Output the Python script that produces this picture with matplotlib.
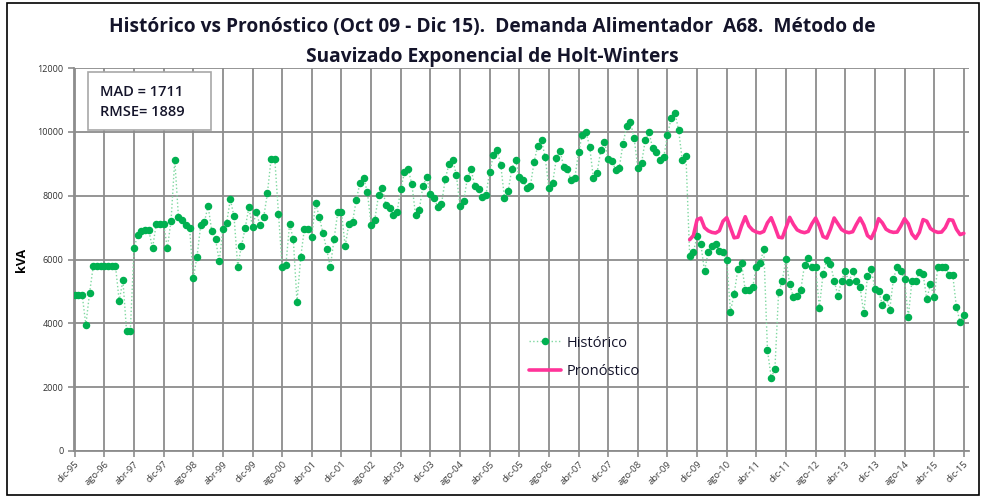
import matplotlib
matplotlib.use("Agg")
import matplotlib.pyplot as plt
from matplotlib.patches import Rectangle
import numpy as np

plt.rcParams['font.family'] = ['Open Sans', 'DejaVu Sans']

# ---- data -------------------------------------------------------------
month_abbr = ['dic', 'ene', 'feb', 'mar', 'abr', 'may', 'jun', 'jul', 'ago', 'sep', 'oct', 'nov']
start_year = 1995  # first month: dic-95

historico = [
    4900, 4900, 4900, 3950, 4950, 5800, 5800, 5800, 5800, 5800, 5800, 5800,
    4700, 5350, 3750, 3750, 6350, 6780, 6900, 6920, 6910, 6350, 7120, 7120,
    7120, 6350, 7220, 9130, 7320, 7250, 7070, 6990, 5420, 6080, 7070, 7180,
    7680, 6880, 6640, 5950, 6950, 7150, 7880, 7350, 5780, 6430, 6980, 7630,
    7020, 7480, 7080, 7320, 8070, 9150, 9150, 7430, 5770, 5830, 7120, 6630,
    4670, 6070, 6970, 6970, 6720, 7780, 7340, 6830, 6320, 5770, 6640, 7480,
    7480, 6420, 7110, 7180, 7870, 8400, 8560, 8100, 7090, 7250, 8010, 8250,
    7710, 7600, 7400, 7480, 8200, 8730, 8840, 8360, 7400, 7560, 8310, 8570,
    8060, 7940, 7640, 7730, 8510, 8980, 9130, 8660, 7680, 7840, 8550, 8820,
    8290, 8210, 7950, 8030, 8740, 9260, 9440, 8960, 7930, 8140, 8850, 9120,
    8580, 8500, 8240, 8300, 9060, 9570, 9730, 9200, 8230, 8390, 9170, 9410,
    8900, 8820, 8480, 8560, 9360, 9900, 10000, 9530, 8560, 8720, 9420, 9680,
    9160, 9100, 8810, 8880, 9630, 10180, 10300, 9810, 8860, 9020, 9730, 9990,
    9490, 9370, 9120, 9200, 9900, 10430, 10590, 10070, 9110, 9230, 6100, 6230,
    6730, 6490, 5640, 6230, 6410, 6470, 6280, 6230, 5990, 4370, 4920, 5690,
    5890, 5030, 5030, 5130, 5780, 5880, 6330, 3160, 2300, 2560, 4970, 5340,
    6020, 5230, 4820, 4870, 5050, 5830, 6050, 5780, 5780, 4480, 5550, 5990,
    5860, 5340, 4870, 5340, 5630, 5290, 5630, 5340, 5130, 4320, 5480, 5690,
    5080, 5000, 4590, 4840, 4430, 5390, 5780, 5650, 5390, 4190, 5340, 5340,
    5600, 5550, 4760, 5230, 4820, 5780, 5780, 5780, 5520, 5520, 4520, 4030,
    4270,
]

pronostico_start = 166  # oct-09
pronostico = [
    6620, 6750, 7250, 7300, 7000, 6900, 6850, 6830, 6900, 7200, 7310, 7000,
    6680, 6700, 7050, 7340, 7050, 6920, 6860, 6830, 6880, 7150, 7310, 7020,
    6700, 6680, 7000, 7320, 7100, 6930, 6870, 6840, 6880, 7120, 7300, 7050,
    6720, 6670, 6950, 7300, 7120, 6940, 6870, 6840, 6870, 7100, 7300, 7080,
    6750, 6660, 6900, 7280, 7150, 6950, 6880, 6850, 6860, 7050, 7280, 7120,
    6800, 6660, 6850, 7250, 7200, 6970, 6890, 6850, 6860, 7000, 7250, 7230,
    6950, 6780, 6820,
]

mad_val = 1711
rmse_val = 1889

# ---- figure -----------------------------------------------------------
W, H = 985, 497
fig = plt.figure(figsize=(W / 100, H / 100), dpi=100)
fig.patch.set_facecolor('white')

# chart border
fig.patches.append(Rectangle((7 / W, 2 / H), (979 - 7) / W, (494 - 2) / H,
                             transform=fig.transFigure, fill=False,
                             edgecolor='black', linewidth=1.2))

ax = fig.add_axes([74 / W, 1 - 451 / H, (969 - 74) / W, (451 - 68) / H])

n = len(historico)
x_hist = np.arange(n)
x_pron = np.arange(pronostico_start, pronostico_start + len(pronostico))

ax.plot(x_hist, historico, linestyle=':', color='#7fd8a0', linewidth=1.0,
        marker='o', markersize=4.4, markerfacecolor='#00b050',
        markeredgecolor='#00b050', label='Histórico', zorder=3)
ax.plot(x_pron, pronostico, color='#ff3399', linewidth=2.6,
        label='Pronóstico', zorder=4, solid_capstyle='round',
        solid_joinstyle='round')

ax.set_xlim(-0.2, 241.4)
ax.set_ylim(0, 12000)

tick_pos = np.arange(0, n, 8)
tick_lab = []
for p in tick_pos:
    m = p % 12
    yr = start_year + (p + 11) // 12 if m != 0 else start_year + p // 12
    tick_lab.append(f"{month_abbr[m]}-{yr % 100:02d}")
ax.set_xticks(tick_pos)
ax.set_xticklabels(tick_lab, rotation=45, ha='right', rotation_mode='anchor',
                   fontsize=6.8, color='#404040')
ax.set_yticks(np.arange(0, 12001, 2000))
ax.set_yticklabels([str(v) for v in range(0, 12001, 2000)], fontsize=6.5, color='#303030')

ax.grid(True, color='#8c8c8c', linewidth=1.3)
ax.set_axisbelow(True)
for s in ['top', 'right']:
    ax.spines[s].set_visible(False)
for s in ['left', 'bottom']:
    ax.spines[s].set_color('#8c8c8c')
    ax.spines[s].set_linewidth(1.3)
ax.tick_params(axis='both', color='#8c8c8c', length=4, width=1.2)
ax.tick_params(axis='x', pad=2)

ax.set_ylabel('kVA', fontsize=9, fontweight='bold', labelpad=7)

fig.text(0.5, 1 - 27 / H,
         'Histórico vs Pronóstico (Oct 09 - Dic 15).  Demanda Alimentador  A68.  Método de',
         ha='center', va='center', fontsize=13.8, fontweight='bold', color='#14142a')
fig.text(0.5, 1 - 57 / H, 'Suavizado Exponencial de Holt-Winters',
         ha='center', va='center', fontsize=13.8, fontweight='bold', color='#14142a')

# statistics box
ax.add_patch(Rectangle((0.0156, 0.838), 0.138, 0.152, transform=ax.transAxes,
                       facecolor='white', edgecolor='#a8a8a8', linewidth=1.2,
                       zorder=5, clip_on=False))
ax.text(0.029, 0.912, f'MAD = {mad_val}\nRMSE= {rmse_val}', transform=ax.transAxes,
        ha='left', va='center', fontsize=10.5, fontweight='semibold', color='#14142a',
        linespacing=1.55, zorder=6)

leg = ax.legend(loc='center', bbox_to_anchor=(0.57, 0.245), frameon=False,
                fontsize=10.5, handlelength=2.2, labelspacing=0.9, markerscale=1.0,
                handletextpad=0.4)
for t in leg.get_texts():
    t.set_color('#14142a')

fig.savefig('out.png', dpi=100, facecolor='white')
